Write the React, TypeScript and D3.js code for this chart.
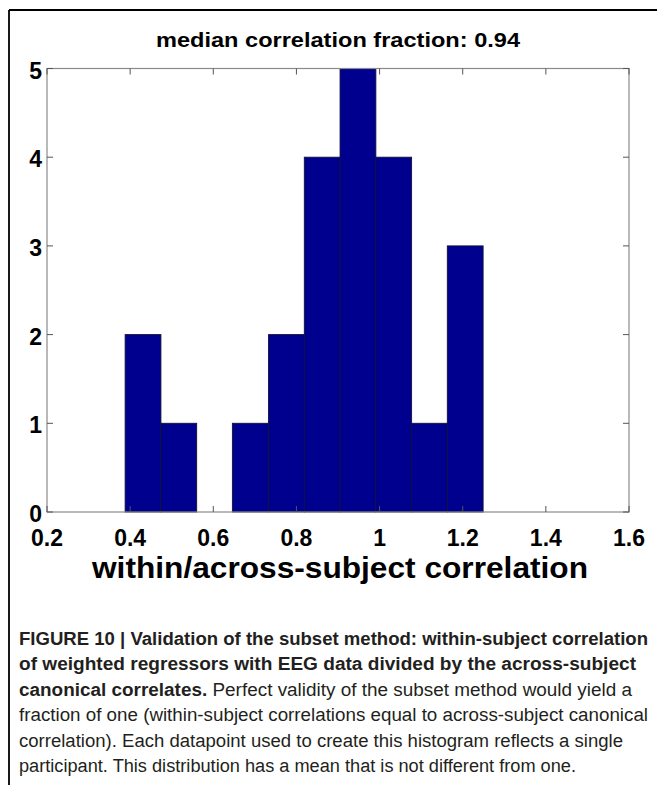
import React from "react";
import * as d3 from "d3";

const binCenters = [0.431, 0.517, 0.603, 0.689, 0.776, 0.862, 0.948, 1.034, 1.12, 1.206];
const binWidth = 0.0861;
const counts = [2, 1, 0, 1, 2, 4, 5, 4, 1, 3];
const xTicks = [0.2, 0.4, 0.6, 0.8, 1, 1.2, 1.4, 1.6];
const xTickLabels = ["0.2", "0.4", "0.6", "0.8", "1", "1.2", "1.4", "1.6"];
const yTicks = [0, 1, 2, 3, 4, 5];
const titleText = "median correlation fraction: 0.94";
const xLabelText = "within/across-subject correlation";

const captionLines: { bold: string; normal: string; width: number }[] = [
  { bold: "FIGURE 10 | Validation of the subset method: within-subject correlation", normal: "", width: 629 },
  { bold: "of weighted regressors with EEG data divided by the across-subject", normal: "", width: 617 },
  { bold: "canonical correlates.", normal: " Perfect validity of the subset method would yield a", width: 613 },
  { bold: "", normal: "fraction of one (within-subject correlations equal to across-subject canonical", width: 629 },
  { bold: "", normal: "correlation). Each datapoint used to create this histogram reflects a single", width: 604 },
  { bold: "", normal: "participant. This distribution has a mean that is not different from one.", width: 557 },
];

export default function App() {
  const W = 657;
  const H = 785;
  const left = 47;
  const right = 629;
  const top = 68.5;
  const bottom = 512;
  const x = d3.scaleLinear().domain([0.2, 1.6]).range([left, right]);
  const y = d3.scaleLinear().domain([0, 5]).range([bottom, top]);
  const font = "Liberation Sans, Arial, Helvetica, sans-serif";
  const axisColor = "#8a8a8a";
  const tickLen = 6;

  return (
    <svg
      width={W}
      height={H}
      style={{ position: "absolute", left: 0, top: 0, background: "#fff" }}
      fontFamily={font}
    >
      <rect x={0} y={0} width={W} height={H} fill="#fff" />
      {/* figure frame */}
      <line x1={9} y1={10} x2={W} y2={10} stroke="#000" strokeWidth={1.8} />
      <line x1={9} y1={10} x2={9} y2={H} stroke="#000" strokeWidth={1.8} />

      {/* title */}
      <text
        x={(left + right) / 2}
        y={47}
        textAnchor="middle"
        fontSize={20}
        fontWeight="bold"
        textLength={364}
        lengthAdjust="spacingAndGlyphs"
      >
        {titleText}
      </text>

      {/* bars */}
      {binCenters.map((c, i) =>
        counts[i] > 0 ? (
          <rect
            key={i}
            x={x(c - binWidth / 2)}
            y={y(counts[i])}
            width={x(c + binWidth / 2) - x(c - binWidth / 2)}
            height={y(0) - y(counts[i])}
            fill="#00008F"
            stroke="#10103a"
            strokeWidth={0.9}
          />
        ) : null
      )}

      {/* axes box */}
      <rect x={left} y={top} width={right - left} height={bottom - top} fill="none" stroke={axisColor} strokeWidth={1.2} />

      {/* x ticks */}
      {xTicks.map((t, i) => (
        <g key={"xt" + i}>
          <line x1={x(t)} x2={x(t)} y1={bottom} y2={bottom - tickLen} stroke="#555" strokeWidth={1} />
          <line x1={x(t)} x2={x(t)} y1={top} y2={top + tickLen} stroke="#555" strokeWidth={1} />
          <text x={x(t)} y={546} textAnchor="middle" fontSize={23} fontWeight="bold">
            {xTickLabels[i]}
          </text>
        </g>
      ))}

      {/* y ticks */}
      {yTicks.map((t, i) => (
        <g key={"yt" + i}>
          <line x1={left} x2={left + tickLen} y1={y(t)} y2={y(t)} stroke="#555" strokeWidth={1} />
          <line x1={right} x2={right - tickLen} y1={y(t)} y2={y(t)} stroke="#555" strokeWidth={1} />
          <text x={42} y={y(t) + 10} textAnchor="end" fontSize={23} fontWeight="bold">
            {String(t)}
          </text>
        </g>
      ))}

      {/* x label */}
      <text
        x={340}
        y={578}
        textAnchor="middle"
        fontSize={30}
        fontWeight="bold"
        textLength={496}
        lengthAdjust="spacingAndGlyphs"
      >
        {xLabelText}
      </text>

      {/* caption */}
      {captionLines.map((ln, i) => (
        <text
          key={"cap" + i}
          x={19}
          y={645 + i * 25.4}
          fontSize={18}
          fill="#231f20"
          textLength={ln.width}
          lengthAdjust="spacingAndGlyphs"
        >
          {ln.bold ? <tspan fontWeight="bold">{ln.bold}</tspan> : null}
          {ln.normal ? <tspan>{ln.normal}</tspan> : null}
        </text>
      ))}
    </svg>
  );
}
